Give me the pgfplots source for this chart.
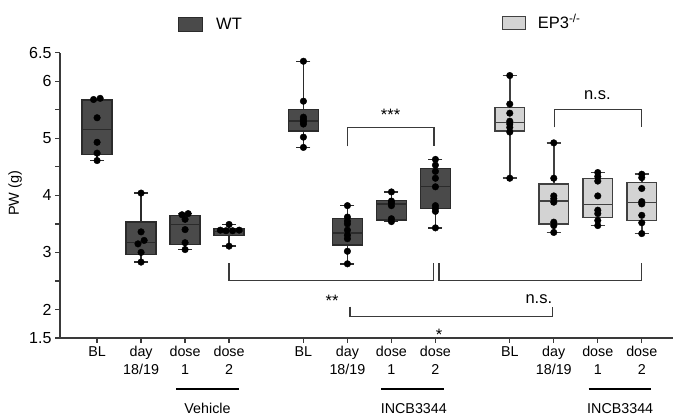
\documentclass[border=0pt]{standalone}
\usepackage{fontspec}
\setmainfont{Liberation Sans}
\usepackage{pgfplots}
\pgfplotsset{compat=1.18}
\usepgfplotslibrary{statistics}

\definecolor{wtfill}{HTML}{4A4A4A}
\definecolor{wtedge}{HTML}{2B2B2B}
\definecolor{kofill}{HTML}{D3D3D3}
\definecolor{koedge}{HTML}{404040}
\definecolor{axgray}{HTML}{3A3A3A}

\pgfplotsset{
  wtbox/.style={draw=wtedge, fill=wtfill, line width=1.4pt},
  kobox/.style={draw=koedge, fill=kofill, line width=1.4pt},
  dots/.style={only marks, mark=*, mark size=3.3pt, black, mark options={fill=black}},
  boxplot/every whisker/.style={line width=1.5pt},
  boxplot/every median/.style={line width=1.4pt},
}

\begin{document}
\begin{tikzpicture}
\path[use as bounding box] (0pt,0pt) rectangle (673pt,415pt);
\begin{axis}[
  at={(60pt,77pt)}, anchor=south west,
  width=613pt, height=285.3pt, scale only axis,
  xmin=-0.843, xmax=13.09, ymin=1.5, ymax=6.5,
  axis x line*=bottom, axis y line*=left,
  axis line style={-, axgray, line width=1.3pt},
  tick style={axgray, line width=1.3pt},
  tick align=outside, major tick length=5pt,
  xtick={0,1,2,3,4.69,5.69,6.69,7.69,9.38,10.38,11.38,12.38},
  xticklabels={BL,{day\\18/19},{dose\\1},{dose\\2},BL,{day\\18/19},{dose\\1},{dose\\2},BL,{day\\18/19},{dose\\1},{dose\\2}},
  xticklabel style={font=\fontsize{14.3}{17.5}\selectfont, align=center},
  ytick={1.5,2,2.5,3,3.5,4,4.5,5,5.5,6,6.5},
  yticklabels={1.5,2,,3,,4,,5,,6,6.5},
  yticklabel style={font=\fontsize{16}{18}\selectfont},
  ylabel={PW (g)},
  ylabel style={at={(axis description cs:-0.0734,0.507)}, anchor=center, font=\fontsize{14.5}{17}\selectfont},
  boxplot/draw direction=y,
  boxplot/box extend=0.68, boxplot/whisker extend=0.32,
  clip=false,
]
% WT, vehicle
\addplot[wtbox, boxplot prepared={draw position=0, median=5.15, lower quartile=4.72, upper quartile=5.67, lower whisker=4.61, upper whisker=5.67}] coordinates {};
\addplot[wtbox, boxplot prepared={draw position=1, median=3.17, lower quartile=2.96, upper quartile=3.53, lower whisker=2.83, upper whisker=4.04}] coordinates {};
\addplot[wtbox, boxplot prepared={draw position=2, median=3.49, lower quartile=3.14, upper quartile=3.65, lower whisker=3.05, upper whisker=3.68}] coordinates {};
\addplot[wtbox, boxplot prepared={draw position=3, median=3.37, lower quartile=3.30, upper quartile=3.42, lower whisker=3.11, upper whisker=3.49}] coordinates {};
% WT, INCB3344
\addplot[wtbox, boxplot prepared={draw position=4.69, median=5.30, lower quartile=5.13, upper quartile=5.50, lower whisker=4.84, upper whisker=6.35}] coordinates {};
\addplot[wtbox, boxplot prepared={draw position=5.69, median=3.34, lower quartile=3.13, upper quartile=3.59, lower whisker=2.80, upper whisker=3.82}] coordinates {};
\addplot[wtbox, boxplot prepared={draw position=6.69, median=3.85, lower quartile=3.57, upper quartile=3.91, lower whisker=3.54, upper whisker=4.06}] coordinates {};
\addplot[wtbox, boxplot prepared={draw position=7.69, median=4.15, lower quartile=3.77, upper quartile=4.47, lower whisker=3.43, upper whisker=4.63}] coordinates {};
% EP3-/-, INCB3344
\addplot[kobox, boxplot prepared={draw position=9.38, median=5.28, lower quartile=5.13, upper quartile=5.54, lower whisker=4.30, upper whisker=6.10}] coordinates {};
\addplot[kobox, boxplot prepared={draw position=10.38, median=3.90, lower quartile=3.50, upper quartile=4.20, lower whisker=3.35, upper whisker=4.92}] coordinates {};
\addplot[kobox, boxplot prepared={draw position=11.38, median=3.84, lower quartile=3.61, upper quartile=4.30, lower whisker=3.47, upper whisker=4.40}] coordinates {};
\addplot[kobox, boxplot prepared={draw position=12.38, median=3.87, lower quartile=3.56, upper quartile=4.22, lower whisker=3.33, upper whisker=4.37}] coordinates {};

% individual animals
\addplot[dots] coordinates {(-0.08,5.68) (0.07,5.70) (0,5.36) (0,4.93) (0,4.74) (0,4.61)};
\addplot[dots] coordinates {(1,4.04) (1,3.36) (1.07,3.21) (0.93,3.15) (1,3.00) (1,2.83)};
\addplot[dots] coordinates {(1.93,3.66) (2.07,3.68) (2,3.58) (2,3.40) (2,3.17) (2,3.05)};
\addplot[dots] coordinates {(3,3.49) (2.8,3.39) (2.93,3.38) (3.08,3.38) (3.23,3.39) (3,3.11)};
\addplot[dots] coordinates {(4.69,6.35) (4.69,5.65) (4.69,5.37) (4.69,5.33) (4.69,5.29) (4.69,5.25) (4.69,5.02) (4.69,4.84)};
\addplot[dots] coordinates {(5.69,3.82) (5.69,3.62) (5.69,3.55) (5.69,3.50) (5.69,3.39) (5.69,3.30) (5.69,3.24) (5.69,3.02) (5.69,2.80)};
\addplot[dots] coordinates {(6.69,4.06) (6.69,3.90) (6.69,3.87) (6.69,3.82) (6.69,3.59) (6.69,3.54)};
\addplot[dots] coordinates {(7.69,4.63) (7.69,4.53) (7.69,4.42) (7.69,4.30) (7.69,4.15) (7.69,3.82) (7.69,3.77) (7.69,3.72) (7.69,3.43)};
\addplot[dots] coordinates {(9.38,6.10) (9.38,5.60) (9.38,5.44) (9.38,5.30) (9.38,5.25) (9.38,5.19) (9.38,5.11) (9.38,4.30)};
\addplot[dots] coordinates {(10.38,4.92) (10.38,4.30) (10.38,3.99) (10.38,3.94) (10.38,3.88) (10.38,3.53) (10.38,3.47) (10.38,3.35)};
\addplot[dots] coordinates {(11.38,4.40) (11.38,4.33) (11.38,4.25) (11.38,3.99) (11.38,3.74) (11.38,3.68) (11.38,3.56) (11.38,3.47)};
\addplot[dots] coordinates {(12.38,4.37) (12.38,4.31) (12.38,4.12) (12.38,3.89) (12.38,3.85) (12.38,3.65) (12.38,3.52) (12.38,3.33)};

% significance brackets
\begin{scope}[axgray, line width=1.3pt]
\draw (axis cs:5.69,4.86) |- (axis cs:7.66,5.19) -- (axis cs:7.66,4.86);
\draw (axis cs:10.39,5.19) |- (axis cs:12.38,5.51) -- (axis cs:12.38,5.19);
\draw (axis cs:3,2.81) |- (axis cs:7.64,2.508) -- (axis cs:7.64,2.81);
\draw (axis cs:7.77,2.81) |- (axis cs:12.38,2.508) -- (axis cs:12.38,2.81);
\draw (axis cs:5.75,2.049) |- (axis cs:10.35,1.873) -- (axis cs:10.35,2.049);
\end{scope}
\begin{scope}[every node/.style={anchor=base, inner sep=0pt, font=\fontsize{16.5}{20}\selectfont}]
\node at (axis cs:6.67,5.305) {***};
\node at (axis cs:11.37,5.683) {n.s.};
\node at (axis cs:5.34,2.057) {**};
\node at (axis cs:10.04,2.108) {n.s.};
\node at (axis cs:7.775,1.453) {*};
\end{scope}

% treatment groups under the axis
\begin{scope}[line width=2.3pt, black]
\draw (axis cs:1.80,0.601) -- (axis cs:3.23,0.601);
\draw (axis cs:6.46,0.601) -- (axis cs:7.88,0.601);
\draw (axis cs:11.17,0.601) -- (axis cs:12.59,0.601);
\end{scope}
\begin{scope}[every node/.style={anchor=base, inner sep=0pt, font=\fontsize{14.3}{17}\selectfont}]
\node at (axis cs:2.51,0.180) {Vehicle};
\node at (axis cs:7.20,0.180) {INCB3344};
\node at (axis cs:11.89,0.180) {INCB3344};
\end{scope}
\end{axis}

% legend
\draw[wtedge, fill=wtfill, line width=0.9pt] (178.7pt,384pt) rectangle (202.7pt,397.7pt);
\node[anchor=base west, inner sep=0pt, font=\fontsize{16.5}{20}\selectfont] at (216pt,385pt) {WT};
\draw[koedge, fill=kofill, line width=0.9pt] (502.3pt,386pt) rectangle (525.7pt,399pt);
\node[anchor=base west, inner sep=0pt, font=\fontsize{16.5}{20}\selectfont] at (537.7pt,386.7pt) {EP3\textsuperscript{-/-}};
\end{tikzpicture}
\end{document}
